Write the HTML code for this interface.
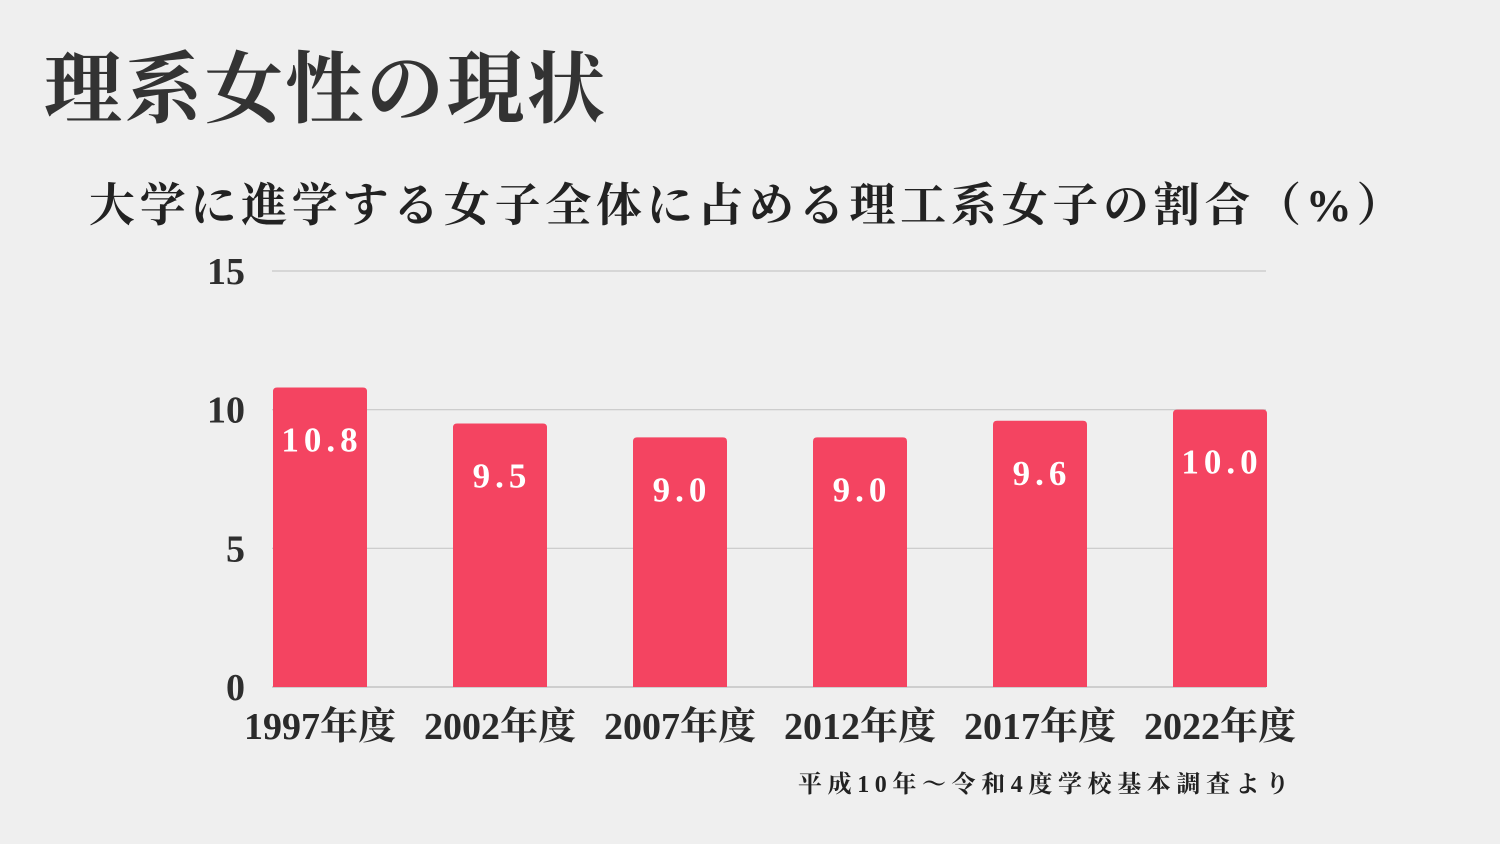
<!DOCTYPE html>
<html><head><meta charset="utf-8">
<style>
html,body{margin:0;padding:0;background:#efefef;}
body{width:1500px;height:844px;overflow:hidden;position:relative;font-family:"Liberation Serif","Noto Serif CJK SC",serif;color:#2e2e2e;}
#title{position:absolute;left:44px;top:51px;font-size:78px;font-weight:bold;line-height:1;letter-spacing:2.5px;color:#333;}
#subtitle{position:absolute;left:89px;top:183px;font-size:46px;font-weight:bold;line-height:1;letter-spacing:4.7px;color:#222;white-space:nowrap;}
#source{position:absolute;left:798px;top:773px;font-size:24px;font-weight:bold;letter-spacing:5.6px;line-height:1;color:#222;white-space:nowrap;}
svg{position:absolute;left:0;top:0;}
</style></head>
<body>
<div id="title">理系女性の現状</div>
<div id="subtitle">大学に進学する女子全体に占める理工系女子の割合（%）</div>
<svg id="chart" width="1500" height="844"></svg>
<div id="source">平成10年～令和4度学校基本調査より</div>
<script>
const categories = ["1997年度","2002年度","2007年度","2012年度","2017年度","2022年度"];
const values = [10.8, 9.5, 9.0, 9.0, 9.6, 10.0];
const valueLabels = ["10.8","9.5","9.0","9.0","9.6","10.0"];
const yTicks = [0, 5, 10, 15];

const NS = "http://www.w3.org/2000/svg";
const svg = document.getElementById("chart");
const plotL = 272, plotR = 1266, y0 = 687, yTop = 271, yMax = 15;
const y = v => y0 - (v / yMax) * (y0 - yTop);
const step = 180, barW = 94, firstX = 273;
const x = i => firstX + i * step;

function mk(tag, attrs){ const e = document.createElementNS(NS, tag); for (const k in attrs) e.setAttribute(k, attrs[k]); svg.appendChild(e); return e; }

yTicks.forEach(t => {
  const g = mk("line", {x1: plotL, x2: plotR, y1: y(t), y2: y(t), stroke: t === 0 ? "#bbb" : "#c8c8c8", "stroke-width": 1.2});
  
  
  const lb = mk("text", {x: 245, y: y(t) + 13, "text-anchor": "end", "font-size": 38, "font-weight": "bold", fill: "#2e2e2e", "font-family": "Liberation Serif, serif"});
  lb.textContent = t;
  
  
});

values.forEach((v, i) => {
  const bx = x(i), top = y(v), r = 4;
  const p = mk("path", {d: `M${bx},${y0} L${bx},${top + r} Q${bx},${top} ${bx + r},${top} L${bx + barW - r},${top} Q${bx + barW},${top} ${bx + barW},${top + r} L${bx + barW},${y0} Z`, fill: "#f44461"});
  
  
  const vt = mk("text", {x: bx + barW / 2 + 2, y: top + 64, "text-anchor": "middle", "font-size": 35, "font-weight": "bold", fill: "#fff", "letter-spacing": 5, "font-family": "Liberation Serif, serif"});
  vt.textContent = valueLabels[i];
  
  
  const ct = mk("text", {x: bx + barW / 2, y: 739, "text-anchor": "middle", "font-size": 38, "font-weight": "bold", fill: "#2a2a2a", "font-family": "Liberation Serif, Noto Serif CJK SC, serif"});
  ct.textContent = categories[i];
  
  
});
</script>
</body></html>
